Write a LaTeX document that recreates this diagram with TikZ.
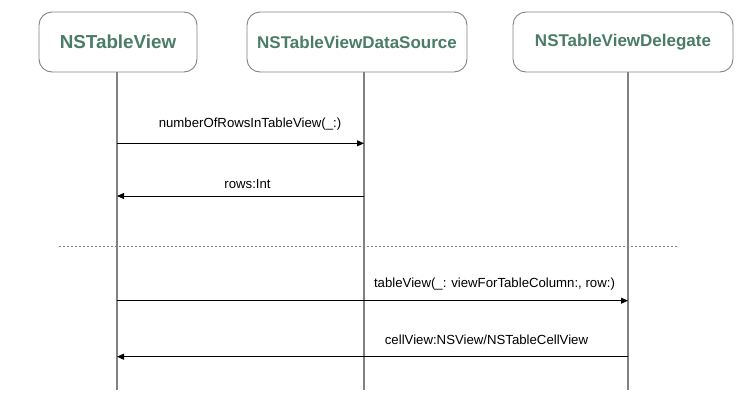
\documentclass[tikz,border=0pt]{standalone}
\usepackage{fontspec}
\setmainfont{Liberation Sans}
\usetikzlibrary{arrows.meta}
\definecolor{titlegreen}{RGB}{74,124,104}
\definecolor{linegray}{RGB}{130,130,130}
\begin{document}
\begin{tikzpicture}[x=1pt,y=-1pt,
  objbox/.style={draw=linegray, line width=0.9pt, rounded corners=13pt, fill=white, text=titlegreen, font=\bfseries\fontsize{17}{20}\selectfont, inner sep=0pt},
  lifeline/.style={draw=linegray, line width=1.4pt},
  msg/.style={draw=black, line width=0.8pt, -{Triangle[length=7pt,width=6pt]}},
  msglabel/.style={font=\fontsize{13.2}{15}\selectfont, text=black, inner sep=0pt},
  sep/.style={draw=linegray, line width=1pt, dash pattern=on 2pt off 2pt}]
\useasboundingbox (0,0) rectangle (749,410);
% boxes
\node[objbox, minimum width=158pt, minimum height=60pt] (tv) at (118,42) {\fontsize{18.8}{22}\selectfont NSTableView};
\node[objbox, minimum width=220pt, minimum height=60pt] (ds) at (357,42) {NSTableViewDataSource};
\node[objbox, minimum width=220pt, minimum height=60pt] (dg) at (623,42) {NSTableViewDelegate};
% lifeline ends
\coordinate (tvtop) at (117,72);
\coordinate (dstop) at (364,72);
\coordinate (dgtop) at (628,72);
\coordinate (tvbot) at (117,390);
\coordinate (dsbot) at (364,390);
\coordinate (dgbot) at (628,390);
\draw[lifeline] (tvtop) -- (tvbot);
\draw[lifeline] (dstop) -- (dsbot);
\draw[lifeline] (dgtop) -- (dgbot);
% message points
\coordinate (a1s) at (117,143.3);
\coordinate (a1e) at (364,143.3);
\coordinate (a2s) at (364,196);
\coordinate (a2e) at (117,196);
\coordinate (a3s) at (117,300.7);
\coordinate (a3e) at (628,300.7);
\coordinate (a4s) at (628,356.7);
\coordinate (a4e) at (117,356.7);
\draw[msg] (a1s) -- (a1e);
\draw[msg] (a2s) -- (a2e);
\draw[msg] (a3s) -- (a3e);
\draw[msg] (a4s) -- (a4e);
\node[msglabel] (l1) at (250,124) {numberOfRowsInTableView(\_:)};
\node[msglabel] (l2) at (247.5,184) {rows:Int};
\node[msglabel] (l3) at (494.5,284) {tableView(\_: viewForTableColumn:, row:)};
\node[msglabel] (l4) at (486.5,340) {cellView:NSView/NSTableCellView};
% separator
\coordinate (sepL) at (59,246);
\coordinate (sepR) at (677,246);
\draw[sep] (sepL) -- (sepR);
\end{tikzpicture}
\end{document}
